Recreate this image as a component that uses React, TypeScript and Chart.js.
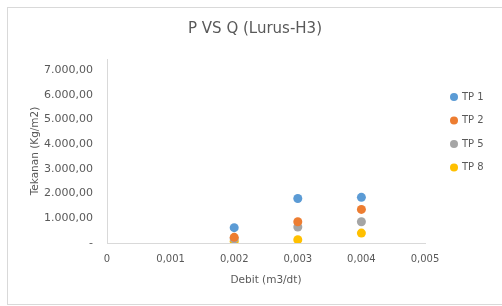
import React, { useEffect, useRef } from "react";
import { Chart, registerables } from "chart.js";

Chart.register(...registerables);

const chartTitle = "P VS Q (Lurus-H3)";
const xAxisTitle = "Debit (m3/dt)";
const yAxisTitle = "Tekanan (Kg/m2)";

const debit = [0.002, 0.003, 0.004];
const seriesNames = ["TP 1", "TP 2", "TP 5", "TP 8"];
const seriesColors = ["#5B9BD5", "#ED7D31", "#A5A5A5", "#FFC000"];
const tp1 = [620, 1800, 1850];
const tp2 = [230, 860, 1360];
const tp5 = [170, 650, 860];
const tp8 = [70, 130, 400];
const seriesValues = [tp1, tp2, tp5, tp8];

const xMin = 0;
const xMax = 0.005;
const xStep = 0.001;
const yMin = 0;
const yMax = 7450;
const yTicks = [0, 1000, 2000, 3000, 4000, 5000, 6000, 7000];

const FONT = "DejaVu Sans";
const TEXT = "#595959";
const LINE = "#d9d9d9";

function fmtY(v: number): string {
  if (v === 0) return "-";
  const fixed = v.toFixed(2);
  const [intPart, dec] = fixed.split(".");
  const withDots = intPart.replace(/\B(?=(\d{3})+(?!\d))/g, ".");
  return withDots + "," + dec;
}

function fmtX(v: number): string {
  if (Math.abs(v) < 1e-12) return "0";
  return v.toFixed(3).replace(".", ",");
}

const sideLegend = {
  id: "sideLegend",
  afterDraw(chart: any) {
    const { ctx, chartArea } = chart;
    const x0 = chartArea.right + 29;
    const y0 = chartArea.top + 38;
    ctx.save();
    chart.data.datasets.forEach((ds: any, i: number) => {
      const y = y0 + i * 23.5;
      ctx.beginPath();
      ctx.arc(x0, y, 4, 0, Math.PI * 2);
      ctx.fillStyle = ds.backgroundColor;
      ctx.fill();
      ctx.fillStyle = TEXT;
      ctx.font = `10px "${FONT}"`;
      ctx.textBaseline = "middle";
      ctx.textAlign = "left";
      ctx.fillText(ds.label, x0 + 8, y);
    });
    ctx.restore();
  },
};

export default function App() {
  const ref = useRef<HTMLCanvasElement | null>(null);

  useEffect(() => {
    if (!ref.current) return;
    const chart = new Chart(ref.current, {
      type: "scatter",
      data: {
        datasets: seriesNames.map((name, si) => ({
          label: name,
          data: debit.map((x, i) => ({ x, y: seriesValues[si][i] })),
          backgroundColor: seriesColors[si],
          borderColor: seriesColors[si],
          pointRadius: 4.5,
          pointHoverRadius: 4.5,
          pointBorderWidth: 0,
        })),
      },
      options: {
        responsive: false,
        animation: false,
        layout: { padding: 0 },
        plugins: {
          legend: { display: false },
          tooltip: { enabled: false },
          title: {
            display: true,
            text: chartTitle,
            color: TEXT,
            font: { family: FONT, size: 15, weight: "normal" },
            padding: { top: 12, bottom: 21 },
          },
        },
        scales: {
          x: {
            type: "linear",
            position: "bottom",
            min: xMin,
            max: xMax,
            afterFit: (s: any) => {
              s.height = 61;
            },
            ticks: {
              stepSize: xStep,
              color: TEXT,
              font: { family: FONT, size: 10 },
              padding: 10,
              callback: (v: any) => fmtX(Number(v)),
            },
            grid: { display: false, drawTicks: false },
            border: { display: true, color: LINE, width: 1 },
            title: {
              display: true,
              text: xAxisTitle,
              color: TEXT,
              font: { family: FONT, size: 10.5 },
              padding: { top: 0, bottom: 17.7 },
            },
          },
          y: {
            type: "linear",
            position: "left",
            min: yMin,
            max: yMax,
            afterFit: (s: any) => {
              s.width = 99;
            },
            afterBuildTicks: (s: any) => {
              s.ticks = yTicks.map((value) => ({ value }));
            },
            ticks: {
              autoSkip: false,
              color: TEXT,
              font: { family: FONT, size: 11 },
              padding: 14,
              callback: (v: any) => fmtY(Number(v)),
            },
            grid: { display: false, drawTicks: false },
            border: { display: true, color: LINE, width: 1 },
            title: {
              display: true,
              text: yAxisTitle,
              color: TEXT,
              font: { family: FONT, size: 10.5 },
              padding: { top: 20.7, bottom: 0 },
            },
          },
          legendSpace: {
            type: "linear",
            axis: "y",
            position: "right",
            display: true,
            min: 0,
            max: 1,
            afterFit: (s: any) => {
              s.width = 77;
            },
            ticks: { display: false },
            grid: { display: false, drawTicks: false },
            border: { display: false },
            title: { display: false },
          },
        },
      },
      plugins: [sideLegend],
    });
    return () => chart.destroy();
  }, []);

  return (
    <div style={{ position: "fixed", left: 0, top: 0, width: 502, height: 306, overflow: "hidden", background: "#fff" }}>
      <div
        style={{
          position: "absolute",
          left: 7,
          top: 7,
          width: 520,
          height: 298,
          boxSizing: "border-box",
          border: `1px solid ${LINE}`,
          background: "#fff",
        }}
      >
        <canvas ref={ref} width={494} height={296} style={{ display: "block", width: 494, height: 296 }} />
      </div>
    </div>
  );
}
